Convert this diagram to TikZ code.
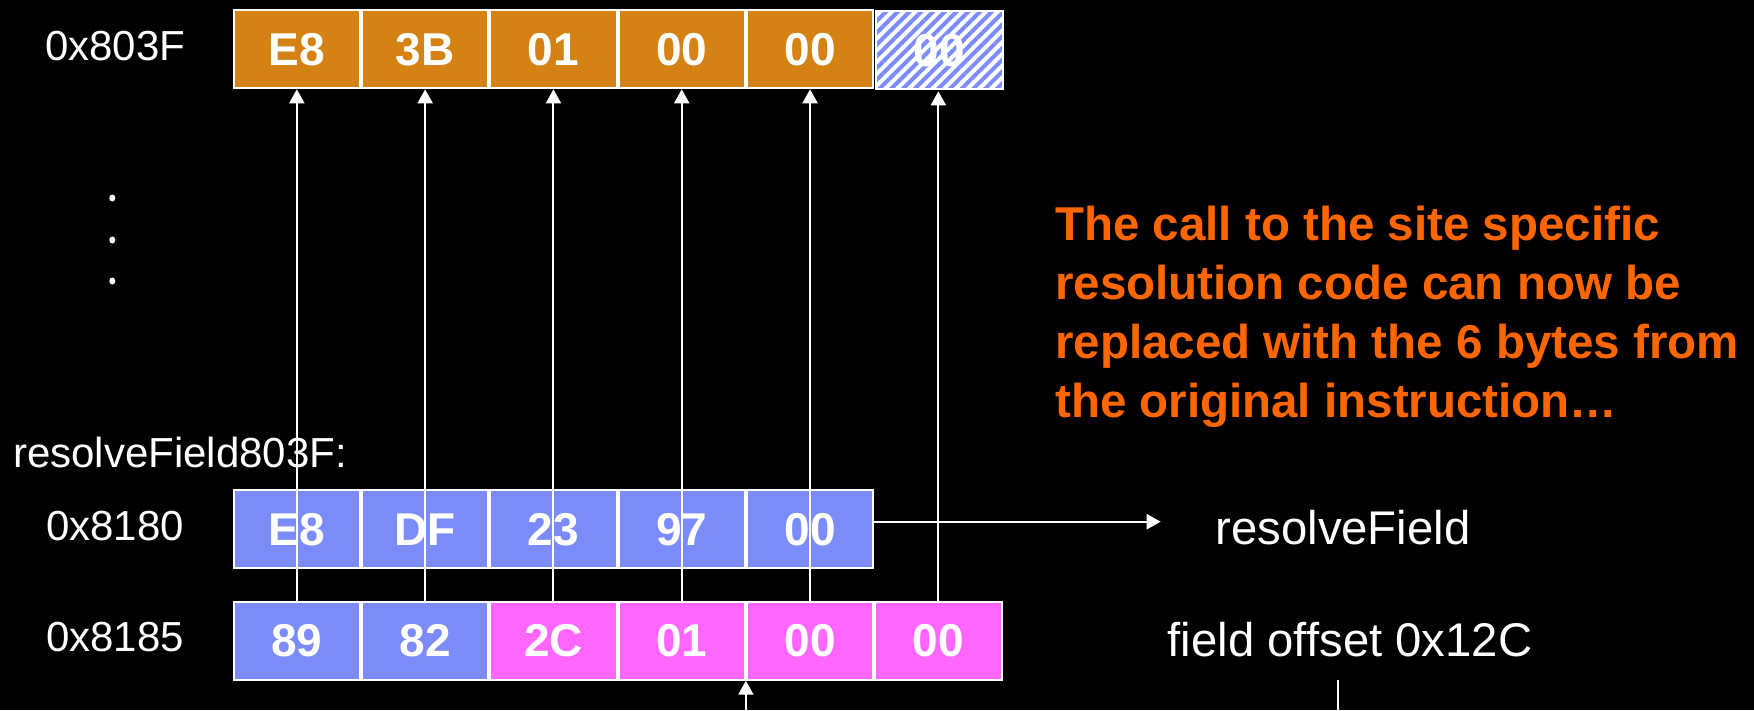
\documentclass[tikz,border=0pt]{standalone}
\usepackage{fontspec}
\setmainfont{Liberation Sans}
\usetikzlibrary{patterns.meta, arrows.meta, shapes.geometric}
\definecolor{cellorange}{RGB}{212,130,20}
\definecolor{cellblue}{RGB}{123,140,250}
\definecolor{cellpink}{RGB}{255,102,255}
\definecolor{noteorange}{RGB}{255,102,0}
\begin{document}
\begin{tikzpicture}[x=1pt, y=-1pt,
  byte/.style={draw=white, line width=2pt, minimum width=126.3pt,
    minimum height=78pt, inner sep=0pt, anchor=north west, text=white,
    font=\fontsize{46}{50}\selectfont\bfseries},
  orangebyte/.style={byte, fill=cellorange},
  bluebyte/.style={byte, fill=cellblue},
  pinkbyte/.style={byte, fill=cellpink},
  freebyte/.style={byte, preaction={fill=white},
    pattern={Lines[angle=45, distance=8.3pt, line width=4pt]},
    pattern color=cellblue},
  addr/.style={text=white, inner sep=0pt, anchor=base,
    font=\fontsize{42}{46}\selectfont},
  side/.style={text=white, inner sep=0pt, anchor=base,
    font=\fontsize{47.3}{52}\selectfont},
  note/.style={text=noteorange, inner sep=0pt, anchor=base west,
    font=\fontsize{47.5}{58}\selectfont\bfseries},
  ptr/.style={draw=white, line width=2pt, -{Triangle[width=15pt, length=14pt]}},
  dot/.style={fill=white, ellipse, inner sep=0pt, minimum width=6pt, minimum height=7pt}
]
\fill[black] (0,0) rectangle (1754,710);
\useasboundingbox (0,0) rectangle (1754,710);

% instruction at 0x803F
\node[orangebyte] (t1) at (232.7,9.3) {E8};
\node[orangebyte] (t2) at (t1.north east) {3B};
\node[orangebyte] (t3) at (t2.north east) {01};
\node[orangebyte] (t4) at (t3.north east) {00};
\node[orangebyte] (t5) at (t4.north east) {00};
\node[freebyte]   (t6) at (t5.north east) {00};

\node[addr] (a1) at (115.3,60.7) {0x803F};
\node[dot] (d1) at (112.3,198) {};
\node[dot] (d2) at (112.3,240) {};
\node[dot] (d3) at (112.3,281) {};

\node[addr, anchor=base west] (lbl) at (13,467) {resolveField803F:};

% call to resolveField at 0x8180
\node[bluebyte] (m1) at (232.7,489.3) {E8};
\node[bluebyte] (m2) at (m1.north east) {DF};
\node[bluebyte] (m3) at (m2.north east) {23};
\node[bluebyte] (m4) at (m3.north east) {97};
\node[bluebyte] (m5) at (m4.north east) {00};
\node[addr] (a2) at (115,540.7) {0x8180};

% saved original bytes at 0x8185
\node[bluebyte] (b1) at (232.7,600.7) {89};
\node[bluebyte] (b2) at (b1.north east) {82};
\node[pinkbyte] (b3) at (b2.north east) {2C};
\node[pinkbyte] (b4) at (b3.north east) {01};
\node[pinkbyte] (b5) at (b4.north east) {00};
\node[pinkbyte] (b6) at (b5.north east) {00};
\node[addr] (a3) at (115,651.7) {0x8185};

% right-hand labels
\node[side] (rf) at (1343,544) {resolveField};
\node[side] (fo) at (1350,656) {field offset 0x12C};

% explanation
\node[note] (n1) at (1055,240.7) {The call to the site specific};
\node[note] (n2) at (1055,299) {resolution code can now be};
\node[note] (n3) at (1055,358) {replaced with the 6 bytes from};
\node[note] (n4) at (1055,417) {the original instruction…};

% copy arrows, kept strictly vertical
\foreach \i in {1,...,6}
  \draw[ptr] (b\i.north) -- (b\i.north |- t\i.south);

\coordinate (rfend) at (1160.7,521.7);
\draw[ptr] (m5.east |- rfend) -- (rfend);

\coordinate (inbottom) at (745.7,712);
\draw[ptr] (b4.south east |- inbottom) -- (b4.south east);

\coordinate (fotop) at (1338.3,680);
\coordinate (fobot) at (1338.3,712);
\draw[white, line width=2pt] (fotop) -- (fobot);
\end{tikzpicture}
\end{document}
